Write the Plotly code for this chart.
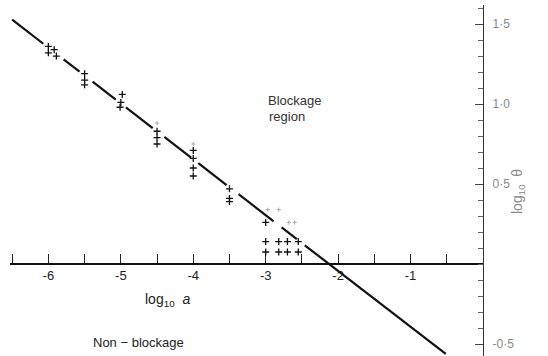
import plotly.graph_objects as go

# ---- data ----
slope = -0.349
x_intercept = -2.125
line_x_start, line_x_end = -6.5, -0.514
line_gaps = [(-6.07, -5.79), (-5.57, -5.39), (-5.07, -4.93), (-4.56, -4.40),
             (-4.03, -3.93), (-3.54, -3.375), (-2.89, -2.78), (-2.57, -2.46)]

pts_x = [-6.0, -6.0, -5.92, -5.89,
         -5.5, -5.5, -5.5,
         -4.98, -5.0, -5.01,
         -4.5, -4.5, -4.5,
         -4.0, -4.0, -4.0, -4.0,
         -3.5, -3.5, -3.5,
         -3.0, -3.0, -3.0,
         -2.82, -2.82, -2.7, -2.7, -2.55, -2.55]
pts_y = [1.36, 1.32, 1.34, 1.30,
         1.19, 1.15, 1.12,
         1.06, 1.01, 0.98,
         0.83, 0.79, 0.75,
         0.71, 0.66, 0.60, 0.55,
         0.47, 0.41, 0.39,
         0.26, 0.14, 0.075,
         0.14, 0.075, 0.14, 0.075, 0.14, 0.075]

faint_x = [-4.5, -4.0, -2.97, -2.82, -2.68, -2.6]
faint_y = [0.88, 0.75, 0.34, 0.34, 0.26, 0.26]

x_tickvals = [-6.5, -6, -5.5, -5, -4.5, -4, -3.5, -3, -2.5, -2, -1.5, -1, -0.5]
x_ticktext = ["", "-6", "", "-5", "", "-4", "", "-3", "", "-2", "", "-1", ""]
y_tickvals = [-0.5, 0.5, 1.0, 1.5]
y_ticktext = ["-0·5", "0·5", "1·0", "1·5"]
y_minorvals = [round(-0.5 + 0.1 * i, 2) for i in range(22)]

# ---- build line with gaps ----
bounds = [line_x_start]
for a, b in line_gaps:
    bounds += [a, b]
bounds.append(line_x_end)
lx, ly = [], []
for i in range(0, len(bounds), 2):
    for xv in (bounds[i], bounds[i + 1]):
        lx.append(xv)
        ly.append(slope * (xv - x_intercept))
    lx.append(None)
    ly.append(None)

fig = go.Figure()
fig.add_trace(go.Scatter(x=lx, y=ly, mode="lines",
                         line=dict(color="#111111", width=2.2),
                         hoverinfo="skip", showlegend=False))
fig.add_trace(go.Scatter(x=pts_x, y=pts_y, mode="markers",
                         marker=dict(symbol="cross-thin", size=5,
                                     line=dict(width=1.3, color="#111111")),
                         showlegend=False))
fig.add_trace(go.Scatter(x=faint_x, y=faint_y, mode="markers",
                         marker=dict(symbol="cross-thin", size=3,
                                     line=dict(width=1, color="#aaaaaa")),
                         showlegend=False))

font_family = "Liberation Sans, DejaVu Sans, sans-serif"

fig.update_layout(
    width=548, height=356,
    margin=dict(l=0, r=0, t=0, b=0),
    paper_bgcolor="white", plot_bgcolor="white",
    font=dict(family=font_family, color="#222222"),
    xaxis=dict(domain=[10 / 548, 483 / 548], range=[-6.53, 0],
               anchor="free", position=1 - 264 / 356,
               showline=True, linecolor="#111111", linewidth=1.6,
               ticks="inside", ticklen=9, tickwidth=1, tickcolor="#222222",
               tickmode="array", tickvals=x_tickvals, ticktext=x_ticktext,
               tickfont=dict(size=13, color="#222222"),
               showgrid=False, zeroline=False),
    yaxis=dict(domain=[0, 351 / 356], range=[-0.575, 1.619],
               anchor="x", side="right",
               showline=True, linecolor="#333333", linewidth=1.2,
               ticks="inside", ticklen=8, tickwidth=1, tickcolor="#444444",
               tickmode="array", tickvals=y_tickvals, ticktext=y_ticktext,
               tickfont=dict(size=12, color="#888888"), ticklabelstandoff=6,
               minor=dict(tickmode="array", tickvals=y_minorvals, ticks="inside",
                          ticklen=5, tickcolor="#666666", showgrid=False),
               showgrid=False, zeroline=False),
    annotations=[
        dict(x=-3.0, y=1.02, xref="x", yref="y", text="Blockage", showarrow=False,
             xanchor="left", yanchor="middle", font=dict(size=13, color="#333333")),
        dict(x=-2.98, y=0.92, xref="x", yref="y", text="region", showarrow=False,
             xanchor="left", yanchor="middle", font=dict(size=13, color="#333333")),
        dict(x=-4.36, y=-0.225, xref="x", yref="y", text="log<sub>10</sub>  <i>a</i>",
             showarrow=False, font=dict(size=14, color="#222222")),
        dict(x=-4.76, y=-0.4875, xref="x", yref="y", text="Non − blockage",
             showarrow=False, font=dict(size=13, color="#222222")),
        dict(x=529 / 548, y=1 - 192 / 356, xref="paper", yref="paper",
             text="log<sub>10</sub>  θ", textangle=-90, showarrow=False,
             font=dict(size=14, color="#888888")),
    ],
)

fig.write_html("out.html",
               config={"displayModeBar": False},
               post_script="document.body.style.margin='0';document.body.style.padding='0';")
